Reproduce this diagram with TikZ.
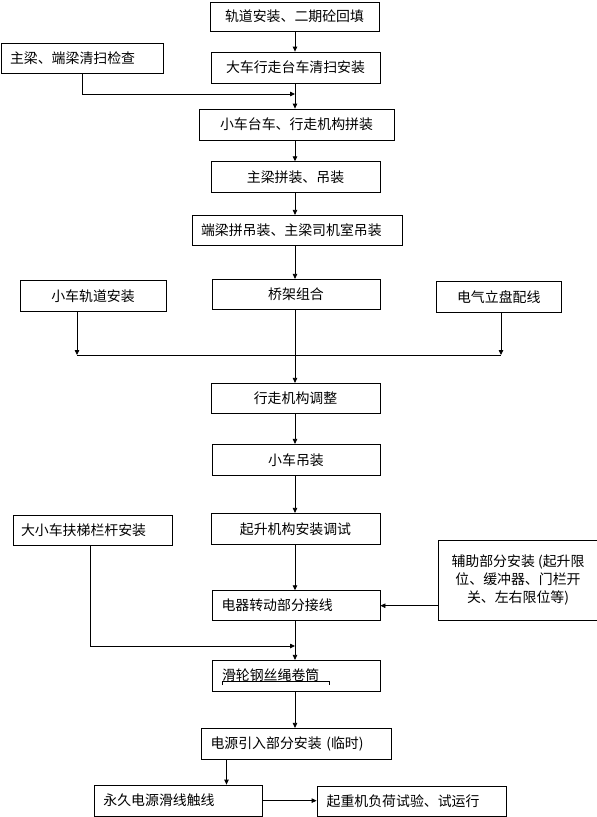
\documentclass[tikz,border=0pt]{standalone}
\usepackage{fontspec}
\setmainfont{Noto Sans CJK SC}
\usetikzlibrary{arrows.meta}
\begin{document}
\begin{tikzpicture}[x=1pt,y=-1pt,
  box/.style={draw, line width=0.8pt, rectangle, inner sep=0pt, align=center,
    font=\fontsize{13.9}{18}\selectfont},
  lbox/.style={box, align=left, text width=#1},
  arr/.style={line width=0.8pt, -{Triangle[length=5pt,width=4.5pt]}},
  ln/.style={line width=0.8pt}]
\useasboundingbox (0,0) rectangle (597,817);

\node[box, minimum width=169pt, minimum height=29pt] (b1) at (294.5,16.5) {轨道安装、二期砼回填};
\node[box, minimum width=169pt, minimum height=31pt] (b2) at (295.5,67.5) {大车行走台车清扫安装};
\node[lbox=144pt, inner xsep=9pt, minimum height=30pt] (z1) at (82,58) {主梁、端梁清扫检查};
\node[box, minimum width=195pt, minimum height=31pt] (b3) at (296.5,124.5) {小车台车、行走机构拼装};
\node[box, minimum width=169pt, minimum height=30.6pt] (b4) at (295.5,177) {主梁拼装、吊装};
\node[lbox=192pt, inner xsep=9pt, minimum height=30pt] (b5) at (297,230.3) {端梁拼吊装、主梁司机室吊装};
\node[box, minimum width=146pt, minimum height=31.4pt] (L1) at (93,296) {小车轨道安装};
\node[box, minimum width=168pt, minimum height=30.4pt] (b6) at (296,294.5) {桥架组合};
\node[box, minimum width=125.5pt, minimum height=31.4pt] (R1) at (498.75,297) {电气立盘配线};
\node[box, minimum width=169pt, minimum height=30pt] (b7) at (295.5,398.3) {行走机构调整};
\node[box, minimum width=168pt, minimum height=31pt] (b8) at (296,459.8) {小车吊装};
\node[box, minimum width=169pt, minimum height=31pt] (b9) at (295.5,528.8) {起升机构安装调试};
\node[lbox=143pt, inner xsep=8pt, minimum height=30pt] (L2) at (92.5,530.3) {大小车扶梯栏杆安装};
\node[box, minimum width=160pt, minimum height=79.7pt] (A) at (518,580.15) {辅助部分安装 (起升限\\位、缓冲器、门栏开\\关、左右限位等)};
\node[lbox=149pt, inner xsep=9.5pt, minimum height=30pt] (b10) at (296,605.7) {电器转动部分接线};
\node[lbox=148pt, inner xsep=10pt, minimum height=30.7pt] (b11) at (296,675.65) {滑轮钢丝绳卷筒};
\node[lbox=171pt, inner xsep=9.5pt, minimum height=30.7pt] (b12) at (296,743.65) {电源引入部分安装 (临时)};
\node[lbox=150.3pt, inner xsep=9pt, minimum height=31.3pt] (b13) at (178.55,800.65) {永久电源滑线触线};
\node[lbox=169.8pt, inner xsep=9.6pt, minimum height=30pt] (b14) at (411.5,801) {起重机负荷试验、试运行};

% underline bracket in b11
\draw[line width=0.6pt] (222,685) -- (222,681) -- (329,681) -- (329,685);

\coordinate (m) at (295,0);
\coordinate (j1) at (295,94);
\coordinate (cl) at (77,355);
\coordinate (cr) at (501,355);
\coordinate (j2) at (295,646);
\coordinate (lx) at (90,0);
\coordinate (k) at (226.5,0);

\draw[arr] (b1.south -| m) -- (b2.north -| m);
\draw[arr] (b2.south -| m) -- (b3.north -| m);
\draw[arr] (z1.south) |- (j1);
\draw[arr] (b3.south -| m) -- (b4.north -| m);
\draw[arr] (b4.south -| m) -- (b5.north -| m);
\draw[arr] (b5.south -| m) -- (b6.north -| m);
\draw[arr] (b6.south -| m) -- (b7.north -| m);
\draw[arr] (L1.south -| cl) -- (cl);
\draw[arr] (R1.south -| cr) -- (cr);
\draw[ln] (cl) -- (cr);
\draw[arr] (b7.south -| m) -- (b8.north -| m);
\draw[arr] (b8.south -| m) -- (b9.north -| m);
\draw[arr] (b9.south -| m) -- (b10.north -| m);
\draw[arr] (A.west |- b10) -- (b10.east);
\draw[arr] (L2.south -| lx) |- (j2);
\draw[arr] (b10.south -| m) -- (b11.north -| m);
\draw[arr] (b11.south -| m) -- (b12.north -| m);
\draw[arr] (b12.south -| k) -- (b13.north -| k);
\draw[arr] (b13.east) -- (b14.west |- b13.east);
\end{tikzpicture}
\end{document}
